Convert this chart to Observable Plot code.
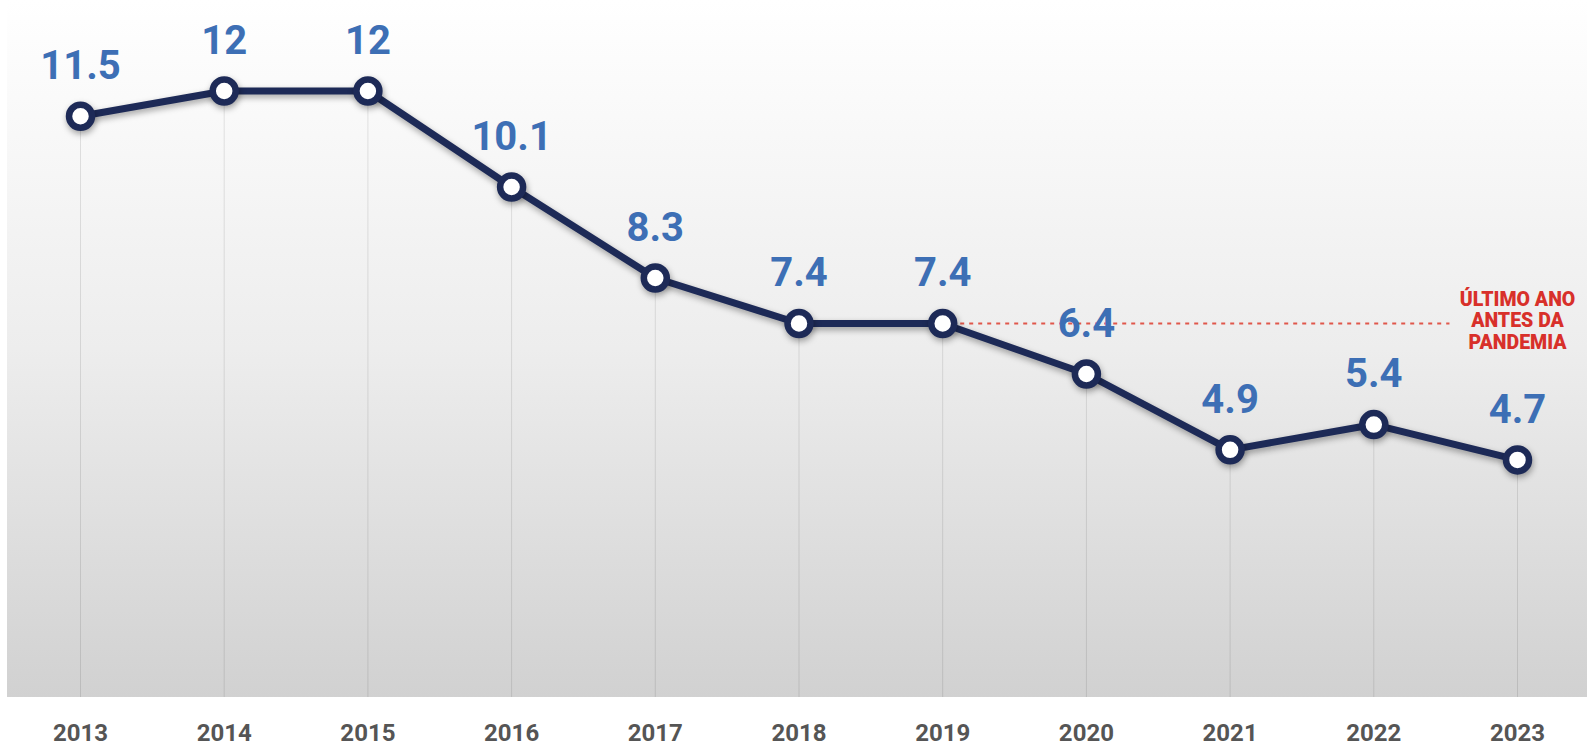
<!DOCTYPE html>
<html>
<head>
<meta charset="utf-8">
<script src="https://cdn.jsdelivr.net/npm/d3@7"></script>
<script src="https://cdn.jsdelivr.net/npm/@observablehq/plot@0.6"></script>
<style>
  html, body { margin: 0; padding: 0; background: #ffffff; }
  #chart svg g[aria-label="line"], #chart svg g[aria-label="dot"] {
    filter: drop-shadow(1px 3px 3px rgba(0,0,0,0.35));
  }
</style>
</head>
<body>
<div id="chart"></div>
<script>
// ---- data ----
const years = [2013, 2014, 2015, 2016, 2017, 2018, 2019, 2020, 2021, 2022, 2023];
const values = [11.5, 12, 12, 10.1, 8.3, 7.4, 7.4, 6.4, 4.9, 5.4, 4.7];
const valueLabels = ["11.5", "12", "12", "10.1", "8.3", "7.4", "7.4", "6.4", "4.9", "5.4", "4.7"];
const yearLabels = ["2013", "2014", "2015", "2016", "2017", "2018", "2019", "2020", "2021", "2022", "2023"];
// annotation: last pre-pandemic year reference line
const refValue = [7.4];
const refFrom = [2019];
const refTo = [2022.53];
const refTextX = [2023];
const refText = ["ÚLTIMO ANO\nANTES DA\nPANDEMIA"];

const data = years.map((y, i) => ({year: y, value: values[i], label: valueLabels[i], yl: yearLabels[i]}));
const refData = refValue.map((v, i) => ({value: v, from: refFrom[i], to: refTo[i], tx: refTextX[i], text: refText[i]}));

const W = 1587, H = 748, MB = 51;

const svg = Plot.plot({
  width: W,
  height: H,
  marginLeft: 80,
  marginRight: 70,
  marginTop: 0,
  marginBottom: MB,
  style: {fontFamily: "Roboto, sans-serif", background: "transparent", overflow: "visible"},
  x: {type: "linear", domain: [2013, 2023], axis: null},
  y: {domain: [0, 13.79], axis: null},
  marks: [
    Plot.ruleX(data, {x: "year", y1: 0, y2: "value", stroke: "#000", strokeOpacity: 0.1, strokeWidth: 1}),
    Plot.ruleY(refData, {y: "value", x1: "from", x2: "to", stroke: "#e0574b", strokeWidth: 2, strokeDasharray: "4,5"}),
    Plot.text(refData, {x: "tx", y: "value", text: "text", dy: -3, fontSize: 19.5, fontWeight: 900, fill: "#d8302a", lineHeight: 1.12, textAnchor: "middle"}),
    Plot.line(data, {x: "year", y: "value", stroke: "#1d2a57", strokeWidth: 7, strokeLinejoin: "round", strokeLinecap: "round"}),
    Plot.dot(data, {x: "year", y: "value", r: 11.5, fill: "#ffffff", stroke: "#1d2a57", strokeWidth: 6.5}),
    Plot.text(data, {x: "year", y: "value", text: "label", dy: -50, fontSize: 40, fontWeight: 700, fill: "#3d6fb5"}),
    Plot.text(data, {x: "year", y: () => 0, text: "yl", dy: 36, fontSize: 24, fontWeight: 700, fill: "#555555"})
  ]
});

// background gradient panel behind the chart
const s = d3.select(svg);
const defs = s.insert("defs", ":first-child");
const grad = defs.append("linearGradient").attr("id", "bgGrad").attr("x1", 0).attr("y1", 0).attr("x2", 0).attr("y2", 1);
grad.append("stop").attr("offset", "0%").attr("stop-color", "#ffffff");
grad.append("stop").attr("offset", "50%").attr("stop-color", "#ededed");
grad.append("stop").attr("offset", "100%").attr("stop-color", "#d1d1d1");
s.insert("rect", "defs + *")
  .attr("x", 7).attr("y", 0)
  .attr("width", W - 7).attr("height", H - MB)
  .attr("fill", "url(#bgGrad)");

document.getElementById("chart").appendChild(svg);
</script>
</body>
</html>
